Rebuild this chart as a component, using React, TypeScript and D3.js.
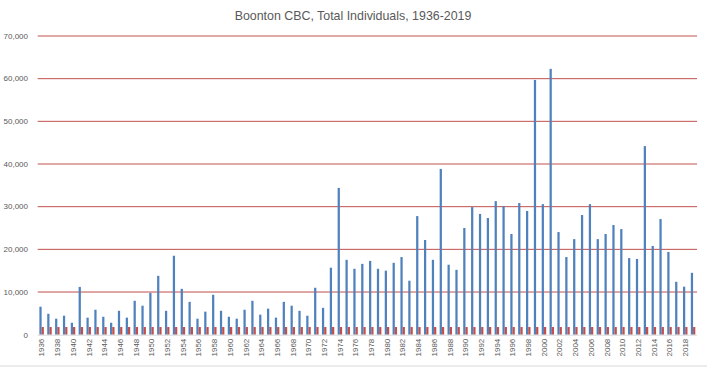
import React from 'react';
import * as d3 from 'd3';

const years: string[] = d3.range(1936, 2020).map(String);

const totalIndividuals: number[] = [
  6560, 4900, 3750, 4450, 2800, 11200, 4000, 5850, 4200, 2800,
  5600, 4000, 7950, 6800, 9800, 13800, 5600, 18500, 10750, 7700,
  3750, 5400, 9350, 5600, 4200, 3750, 5850, 7950, 4700, 6100,
  4000, 7700, 6800, 5600, 4450, 11000, 6300, 15700, 34400, 17550,
  15450, 16600, 17300, 15450, 15000, 16850, 18200, 12650, 27800, 22200,
  17550, 38850, 16400, 15200, 25000, 29900, 28300, 27350, 31300, 30150,
  23600, 30850, 29000, 59700, 30600, 62300, 24050, 18200, 22400, 28050,
  30600, 22400, 23600, 25700, 24750, 17950, 17750, 44200, 20800, 27100,
  19400, 12400, 11250, 14500,
];

const secondSeries: number[] = [
  1800, 1800, 1800, 1800, 1800, 1800, 1800, 1800, 1800, 1800,
  1800, 1800, 1800, 1800, 1800, 1800, 1800, 1800, 1800, 1800,
  1800, 1800, 1800, 1800, 1800, 1800, 1800, 1800, 1800, 1800,
  1800, 1800, 1800, 1800, 1800, 1800, 1800, 1800, 1800, 1800,
  1800, 1800, 1800, 1800, 1800, 1800, 1800, 1800, 1800, 1800,
  1800, 1800, 1800, 1800, 1800, 1800, 1800, 1800, 1800, 1800,
  1800, 1800, 1800, 1800, 1800, 1800, 1800, 1800, 1800, 1800,
  1800, 1800, 1800, 1800, 1800, 1800, 1800, 1800, 1800, 1800,
  1800, 1800, 1800, 1800,
];

const yTicks: number[] = [0, 10000, 20000, 30000, 40000, 50000, 60000, 70000];

const seriesKeys = ['total', 'second'];
const colors: Record<string, string> = { total: '#4F81BD', second: '#C0504D' };

const W = 707;
const H = 367;
const font = '"Liberation Sans", Arial, sans-serif';

export default function App() {
  const x = d3.scaleBand<string>().domain(years).range([37.7, 697]).padding(0);
  const inner = d3
    .scaleBand<string>()
    .domain(seriesKeys)
    .range([0, x.bandwidth()])
    .paddingInner(0)
    .paddingOuter(0.75);
  const y = d3.scaleLinear().domain([0, 70000]).range([334.7, 36]);
  const fmt = d3.format(',');

  const rows = years.map((yr, i) => ({ yr, total: totalIndividuals[i], second: secondSeries[i] }));

  return (
    <svg
      width={W}
      height={H}
      style={{ position: 'absolute', left: 0, top: 0, background: '#fff' }}
      fontFamily={font}
    >
      <rect x={0} y={0} width={W} height={H} fill="#fff" />
      <text x={353} y={20} textAnchor="middle" fontSize={12.4} fill="#595959">
        Boonton CBC, Total Individuals, 1936-2019
      </text>

      {yTicks.map((t) => (
        <g key={t}>
          {t > 0 && (
            <line x1={37.7} x2={697} y1={y(t)} y2={y(t)} stroke="#C0504D" strokeWidth={1} />
          )}
          <text x={28} y={y(t)} dy="0.35em" textAnchor="end" fontSize={8} fill="#595959">
            {fmt(t)}
          </text>
        </g>
      ))}

      {rows.map((r) =>
        seriesKeys.map((k) => {
          const v = (r as any)[k] as number;
          return (
            <rect
              key={r.yr + k}
              x={(x(r.yr) as number) + (inner(k) as number)}
              y={y(v)}
              width={inner.bandwidth()}
              height={y(0) - y(v)}
              fill={colors[k]}
            />
          );
        })
      )}

      <line x1={37.7} x2={697} y1={y(0) + 0.5} y2={y(0) + 0.5} stroke="#D9D9D9" strokeWidth={1} />

      {years.map((yr, i) =>
        i % 2 === 0 ? (
          <text
            key={yr}
            transform={`translate(${(x(yr) as number) + x.bandwidth() / 2},${y(0) + 4}) rotate(-90)`}
            textAnchor="end"
            dy="0.35em"
            fontSize={8}
            fill="#595959"
          >
            {yr}
          </text>
        ) : null
      )}

      <line x1={0} x2={W} y1={366} y2={366} stroke="#D9D9D9" strokeWidth={1} />
    </svg>
  );
}
